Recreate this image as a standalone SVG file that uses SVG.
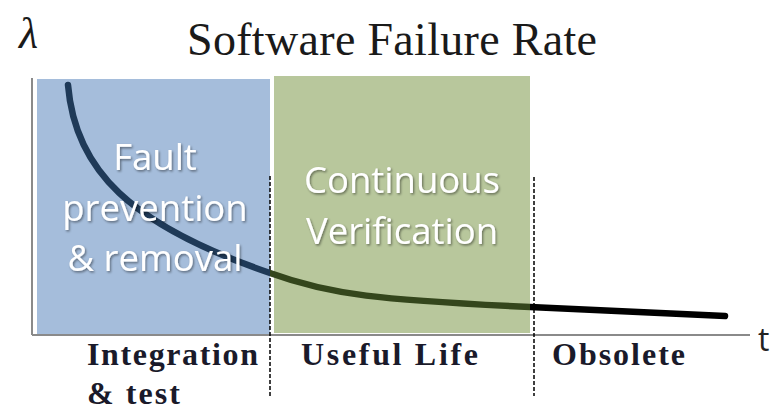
<svg xmlns="http://www.w3.org/2000/svg" width="771" height="411" viewBox="0 0 771 411">
<style>
.serif{font-family:"Liberation Serif","Times New Roman",serif;fill:#1a1a1a}
.lbl{font-family:"Liberation Serif","Times New Roman",serif;font-weight:bold;font-size:32px;fill:#1a1a2a}
.inner{font-family:"Open Sans","Noto Sans",sans-serif;font-size:36.5px;fill:#ffffff;text-anchor:middle;filter:url(#sh)}
.axis{stroke:#8a8a8a;stroke-width:2;fill:none}
.div{stroke:#000;stroke-width:1.5;stroke-dasharray:4 2;fill:none}
</style>
<defs>
<filter id="sh" x="-10%" y="-20%" width="130%" height="150%">
<feDropShadow dx="1.2" dy="1.5" stdDeviation="1" flood-color="#000" flood-opacity="0.45"/>
</filter>
<linearGradient id="cg" gradientUnits="userSpaceOnUse" x1="0" y1="0" x2="771" y2="0">
<stop offset="0" stop-color="#1f3a58"/>
<stop offset="0.3502" stop-color="#1f3a58"/>
<stop offset="0.3502" stop-color="#34461c"/>
<stop offset="0.6874" stop-color="#34461c"/>
<stop offset="0.6874" stop-color="#000"/>
<stop offset="1" stop-color="#000"/>
</linearGradient>
</defs>
<rect width="771" height="411" fill="#fff"/>
<g id="regions">
<rect id="blue" x="37" y="79" width="233" height="255" fill="#a5bddb"/>
<rect id="green" x="274" y="76" width="256" height="257" fill="#b8c79c"/>
</g>
<g id="axes">
<line class="axis" x1="32" y1="78" x2="32" y2="335"/>
<line class="axis" x1="32" y1="335" x2="750" y2="335"/>
</g>
<g id="dividers">
<line class="div" x1="270" y1="176" x2="270" y2="396"/>
<line class="div" x1="534" y1="177" x2="534" y2="396"/>
</g>
<g id="curve">
<path d="M68,85 C75,170 130,225 270,273 C330,295 380,300 530,307 L725,316" fill="none" stroke="url(#cg)" stroke-width="6.5" stroke-linecap="round"/>
</g>
<g id="titles">
<text class="serif" x="19" y="48" font-size="44" font-style="italic">λ</text>
<text class="serif" x="187" y="55" font-size="46" textLength="410" lengthAdjust="spacing">Software Failure Rate</text>
<text x="758" y="351" font-family="'Open Sans','Noto Sans',sans-serif" font-size="32" fill="#222">t</text>
</g>
<g id="phase-fault">
<text class="inner" x="155" y="170">Fault</text>
<text class="inner" x="155" y="221">prevention</text>
<text class="inner" x="155" y="271">&amp; removal</text>
</g>
<g id="phase-verif">
<text class="inner" x="402" y="193">Continuous</text>
<text class="inner" x="402" y="244">Verification</text>
</g>
<g id="phase-labels">
<text class="lbl" x="87" y="365" textLength="171" lengthAdjust="spacing">Integration</text>
<text class="lbl" x="87" y="404" textLength="93" lengthAdjust="spacing">&amp; test</text>
<text class="lbl" x="301" y="365" textLength="177" lengthAdjust="spacing">Useful Life</text>
<text class="lbl" x="552" y="365" textLength="133" lengthAdjust="spacing">Obsolete</text>
</g>
</svg>
